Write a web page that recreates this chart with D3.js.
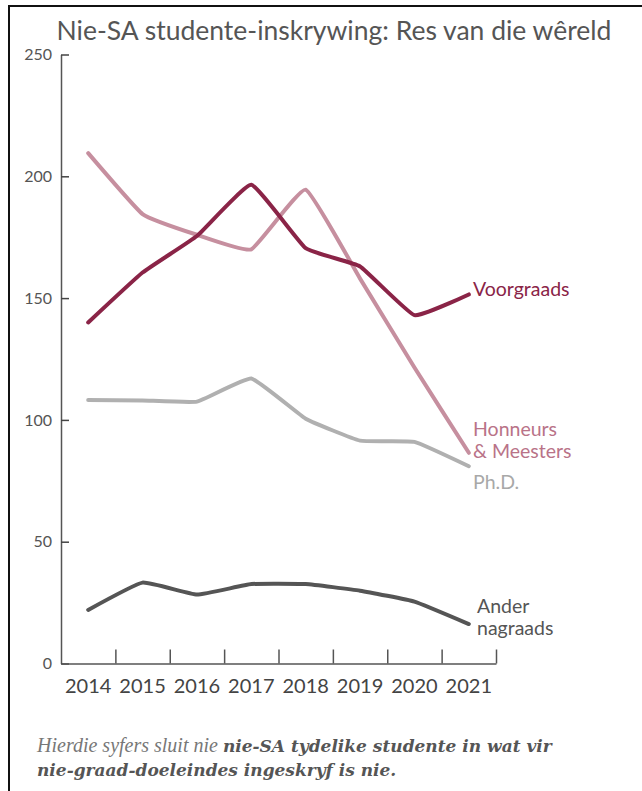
<!DOCTYPE html>
<html>
<head>
<meta charset="utf-8">
<script src="https://cdn.jsdelivr.net/npm/d3@7/dist/d3.min.js"></script>
<style>
  body { margin: 0; background: #fff; }
  svg { display: block; }
</style>
</head>
<body>
<div id="chart"></div>
<script>
// Data
var years = ["2014", "2015", "2016", "2017", "2018", "2019", "2020", "2021"];
var voorgraads = [140, 160.5, 175.5, 196.5, 170.5, 163, 143, 151.5];
var honneurs = [209.5, 184.5, 176, 170, 194.5, 158, 121.5, 86.5];
var phd = [108.2, 108, 107.5, 117, 100.5, 91.5, 91, 81];
var ander = [22, 33.2, 28.3, 32.6, 32.6, 29.9, 25.4, 16.2];
var yTicks = [0, 50, 100, 150, 200, 250];

// Define svg dimension
var svgWidth = 642;
var svgHeight = 791;

// Plot area
var plotLeft = 61;
var plotRight = 496;
var plotTop = 54.5;
var plotBottom = 663.5;

var svg = d3.select("#chart")
  .append("svg")
  .attr("width", svgWidth)
  .attr("height", svgHeight);

// Frame (only top and left edges are visible)
svg.append("path")
  .attr("d", "M9,791 L9,6 L642,6")
  .attr("fill", "none")
  .attr("stroke", "#111")
  .attr("stroke-width", 2);

// Scales
var xScale = d3.scaleBand()
  .domain(years)
  .range([plotLeft, plotRight]);

var xEdge = d3.scaleLinear()
  .domain([0, years.length])
  .range([plotLeft, plotRight]);

var yScale = d3.scaleLinear()
  .domain([0, 250])
  .range([plotBottom, plotTop]);

// Title
svg.append("text")
  .attr("x", 334)
  .attr("y", 40)
  .attr("text-anchor", "middle")
  .attr("font-family", "Lato, sans-serif")
  .attr("font-size", 26.5)
  .attr("fill", "#555")
  .text("Nie-SA studente-inskrywing: Res van die wêreld");

// Y axis (ticks point inward)
var yAxis = svg.append("g")
  .attr("transform", `translate(${plotLeft},0)`)
  .call(d3.axisLeft(yScale).tickValues(yTicks).tickSize(-8).tickSizeOuter(0).tickPadding(9));
yAxis.select(".domain").attr("stroke", "#555").attr("stroke-width", 1.5);
yAxis.selectAll(".tick line").attr("stroke", "#444").attr("stroke-width", 1.5);
yAxis.selectAll(".tick text")
  .attr("font-family", "Lato, sans-serif")
  .attr("font-size", 16)
  .attr("fill", "#555");

// X axis: ticks on band edges, labels at band centres
var xTicks = svg.append("g")
  .attr("transform", `translate(0,${plotBottom})`)
  .call(d3.axisTop(xEdge).tickValues(d3.range(1, years.length + 1)).tickSize(14).tickSizeOuter(0).tickFormat(""));
xTicks.select(".domain").attr("stroke", "#555").attr("stroke-width", 1.5);
xTicks.selectAll(".tick line").attr("stroke", "#555").attr("stroke-width", 1.5);

var xLabels = svg.append("g")
  .attr("transform", `translate(0,${plotBottom})`)
  .call(d3.axisBottom(xScale).tickSize(0).tickPadding(15));
xLabels.select(".domain").remove();
xLabels.selectAll(".tick text")
  .attr("font-family", "Lato, sans-serif")
  .attr("font-size", 20)
  .attr("fill", "#444");

// Series
var series = [
  { name: "ander", values: ander, color: "#555555", width: 4 },
  { name: "phd", values: phd, color: "#b0b0b0", width: 4 },
  { name: "honneurs", values: honneurs, color: "#c68f9f", width: 4 },
  { name: "voorgraads", values: voorgraads, color: "#8a2447", width: 4 }
];

var line = d3.line()
  .x((d, i) => xScale(years[i]) + xScale.bandwidth() / 2)
  .y(d => yScale(d))
  .curve(d3.curveCardinal.tension(0.65));

svg.selectAll(".series")
  .data(series)
  .enter()
  .append("path")
  .attr("class", "series")
  .attr("d", d => line(d.values))
  .attr("fill", "none")
  .attr("stroke", d => d.color)
  .attr("stroke-width", d => d.width)
  .attr("stroke-linejoin", "round")
  .attr("stroke-linecap", "round");

// Series labels
var labels = [
  { lines: ["Voorgraads"], x: 473, y: 296, color: "#8a2447" },
  { lines: ["Honneurs", "& Meesters"], x: 473, y: 435.5, color: "#b97388" },
  { lines: ["Ph.D."], x: 473, y: 488.5, color: "#a8a8a8" },
  { lines: ["Ander", "nagraads"], x: 477, y: 613, color: "#555" }
];

labels.forEach(function(l) {
  var t = svg.append("text")
    .attr("font-family", "Lato, sans-serif")
    .attr("font-size", 19.5)
    .attr("fill", l.color);
  l.lines.forEach(function(s, i) {
    t.append("tspan")
      .attr("x", l.x)
      .attr("y", l.y + i * 22)
      .text(s);
  });
});

// Footnote
var note = svg.append("text")
  .attr("font-style", "italic")
  .attr("fill", "#555");
note.append("tspan")
  .attr("x", 37)
  .attr("y", 752)
  .attr("fill", "#777")
  .attr("font-family", "'Liberation Serif', serif")
  .attr("font-size", 20)
  .text("Hierdie syfers sluit nie ");
note.append("tspan")
  .attr("font-family", "'DejaVu Serif', serif")
  .attr("font-size", 17)
  .attr("font-weight", "bold")
  .text("nie-SA tydelike studente in wat vir");
note.append("tspan")
  .attr("x", 37)
  .attr("y", 776)
  .attr("font-family", "'DejaVu Serif', serif")
  .attr("font-size", 17)
  .attr("font-weight", "bold")
  .text("nie-graad-doeleindes ingeskryf is nie.");
</script>
</body>
</html>
